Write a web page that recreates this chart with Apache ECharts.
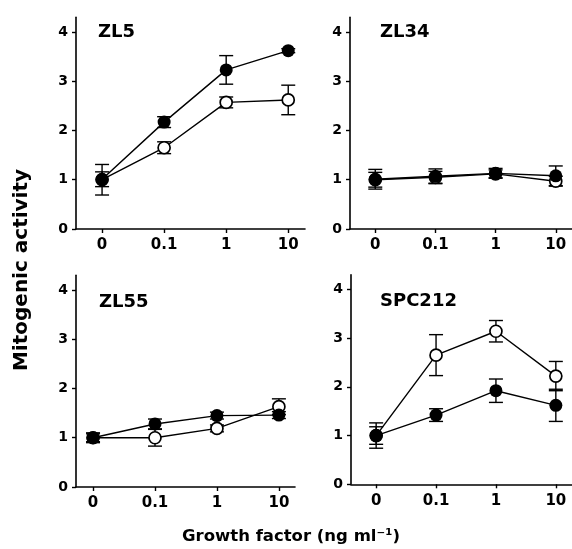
<!DOCTYPE html>
<html>
<head>
<meta charset="utf-8">
<script src="https://cdn.jsdelivr.net/npm/echarts@6/dist/echarts.min.js"></script>
<style>
html,body{margin:0;padding:0;background:#fff;}
#c{width:572px;height:549px;}
</style>
</head>
<body>
<div id="c"></div>
<script>
// ---- data ----
const xLabels = ['0', '0.1', '1', '10'];
const xIdx = [0, 1, 2, 3];
const yTicks = [0, 1, 2, 3, 4];
const panelNames = ['ZL5', 'ZL34', 'ZL55', 'SPC212'];

const zl5Filled = [1.01, 2.17, 3.23, 3.62];
const zl5FilledErr = [0.15, 0.11, 0.29, 0.04];
const zl5Open = [1.0, 1.65, 2.57, 2.62];
const zl5OpenErr = [0.31, 0.12, 0.11, 0.30];

const zl34Filled = [1.01, 1.07, 1.13, 1.08];
const zl34FilledErr = [0.20, 0.15, 0.10, 0.20];
const zl34Open = [1.0, 1.05, 1.12, 0.97];
const zl34OpenErr = [0.15, 0.12, 0.08, 0.10];

const zl55Filled = [1.0, 1.28, 1.45, 1.46];
const zl55FilledErr = [0.10, 0.10, 0.07, 0.07];
const zl55Open = [1.0, 1.0, 1.19, 1.63];
const zl55OpenErr = [0.08, 0.17, 0.07, 0.16];

const spcFilled = [1.0, 1.42, 1.92, 1.62];
const spcFilledErr = [0.18, 0.13, 0.24, 0.33];
const spcOpen = [1.0, 2.65, 3.14, 2.22];
const spcOpenErr = [0.26, 0.42, 0.22, 0.30];

const panels = [
  {filled: zl5Filled, fErr: zl5FilledErr, open: zl5Open, oErr: zl5OpenErr},
  {filled: zl34Filled, fErr: zl34FilledErr, open: zl34Open, oErr: zl34OpenErr},
  {filled: zl55Filled, fErr: zl55FilledErr, open: zl55Open, oErr: zl55OpenErr},
  {filled: spcFilled, fErr: spcFilledErr, open: spcOpen, oErr: spcOpenErr}
];

// ---- layout ----
const grids = [
  {left: 76, top: 17.2, width: 229, height: 211.8},
  {left: 350, top: 17.2, width: 229, height: 211.8},
  {left: 76, top: 275.2, width: 219, height: 211.8},
  {left: 351, top: 274.7, width: 229, height: 209.6}
];
const xRanges = [[-0.42, 3.27], [-0.42, 3.27], [-0.275, 3.26], [-0.42, 3.27]];
const labelPos = [[98, 32], [380, 32], [99, 302], [380, 301]];

const FONT = 'DejaVu Sans';

const xAxes = [], yAxes = [], series = [], graphics = [];
grids.forEach((g, i) => {
  xAxes.push({
    gridIndex: i, type: 'value', min: xRanges[i][0], max: xRanges[i][1],
    axisLine: {show: true, onZero: false, lineStyle: {color: '#000', width: 1.6}},
    axisTick: {show: true, length: 4, customValues: xIdx, lineStyle: {color: '#000', width: 1.4}},
    axisLabel: {customValues: xIdx, margin: 9, color: '#000', fontFamily: FONT, fontWeight: 'bold', fontSize: 15,
      formatter: v => xLabels[Math.round(v)]},
    splitLine: {show: false}
  });
  yAxes.push({
    gridIndex: i, type: 'value', min: 0, max: 4.3,
    axisLine: {show: true, onZero: false, lineStyle: {color: '#000', width: 1.6}},
    axisTick: {show: true, length: 4, customValues: yTicks, lineStyle: {color: '#000', width: 1.4}},
    axisLabel: {customValues: yTicks, margin: 8, color: '#000', fontFamily: FONT, fontWeight: 'bold', fontSize: 14},
    splitLine: {show: false}
  });
  const p = panels[i];
  const errData = (vals, errs) => vals.map((v, k) => [xIdx[k], v - errs[k], v + errs[k]]);
  const errSeries = (vals, errs) => ({
    type: 'custom', xAxisIndex: i, yAxisIndex: i, z: 1,
    encode: {x: 0, y: [1, 2]},
    data: errData(vals, errs),
    renderItem: (params, api) => {
      const x = api.value(0);
      const top = api.coord([x, api.value(2)]);
      const bot = api.coord([x, api.value(1)]);
      const h = 7;
      const st = {stroke: '#000', lineWidth: 1.4};
      return {type: 'group', children: [
        {type: 'line', shape: {x1: top[0], y1: top[1], x2: bot[0], y2: bot[1]}, style: st},
        {type: 'line', shape: {x1: top[0] - h, y1: top[1], x2: top[0] + h, y2: top[1]}, style: st},
        {type: 'line', shape: {x1: bot[0] - h, y1: bot[1], x2: bot[0] + h, y2: bot[1]}, style: st}
      ]};
    }
  });
  series.push(errSeries(p.open, p.oErr));
  series.push(errSeries(p.filled, p.fErr));
  series.push({
    type: 'line', xAxisIndex: i, yAxisIndex: i, z: 2,
    data: p.open.map((v, k) => [xIdx[k], v]),
    symbol: 'circle', symbolSize: 12,
    itemStyle: {color: '#fff', borderColor: '#000', borderWidth: 1.7},
    lineStyle: {color: '#000', width: 1.4}
  });
  series.push({
    type: 'line', xAxisIndex: i, yAxisIndex: i, z: 3,
    data: p.filled.map((v, k) => [xIdx[k], v]),
    symbol: 'circle', symbolSize: 13,
    itemStyle: {color: '#000', borderColor: '#000', borderWidth: 0},
    lineStyle: {color: '#000', width: 1.4}
  });
  graphics.push({
    type: 'text', x: labelPos[i][0], y: labelPos[i][1],
    style: {text: panelNames[i], fill: '#000', font: 'bold 18px "DejaVu Sans"', verticalAlign: 'middle', align: 'left'}
  });
});

graphics.push({
  type: 'text', x: 22, y: 270, rotation: Math.PI / 2,
  style: {text: 'Mitogenic activity', fill: '#000', font: 'bold 20px "DejaVu Sans"', verticalAlign: 'middle', align: 'center'}
});
graphics.push({
  type: 'text', x: 291, y: 537,
  style: {text: 'Growth factor (ng ml⁻¹)', fill: '#000', font: 'bold 16.5px "DejaVu Sans"', verticalAlign: 'middle', align: 'center'}
});

const chart = echarts.init(document.getElementById('c'));
chart.setOption({
  animation: false,
  backgroundColor: '#fff',
  grid: grids,
  xAxis: xAxes,
  yAxis: yAxes,
  series: series,
  graphic: graphics
});
</script>
</body>
</html>
